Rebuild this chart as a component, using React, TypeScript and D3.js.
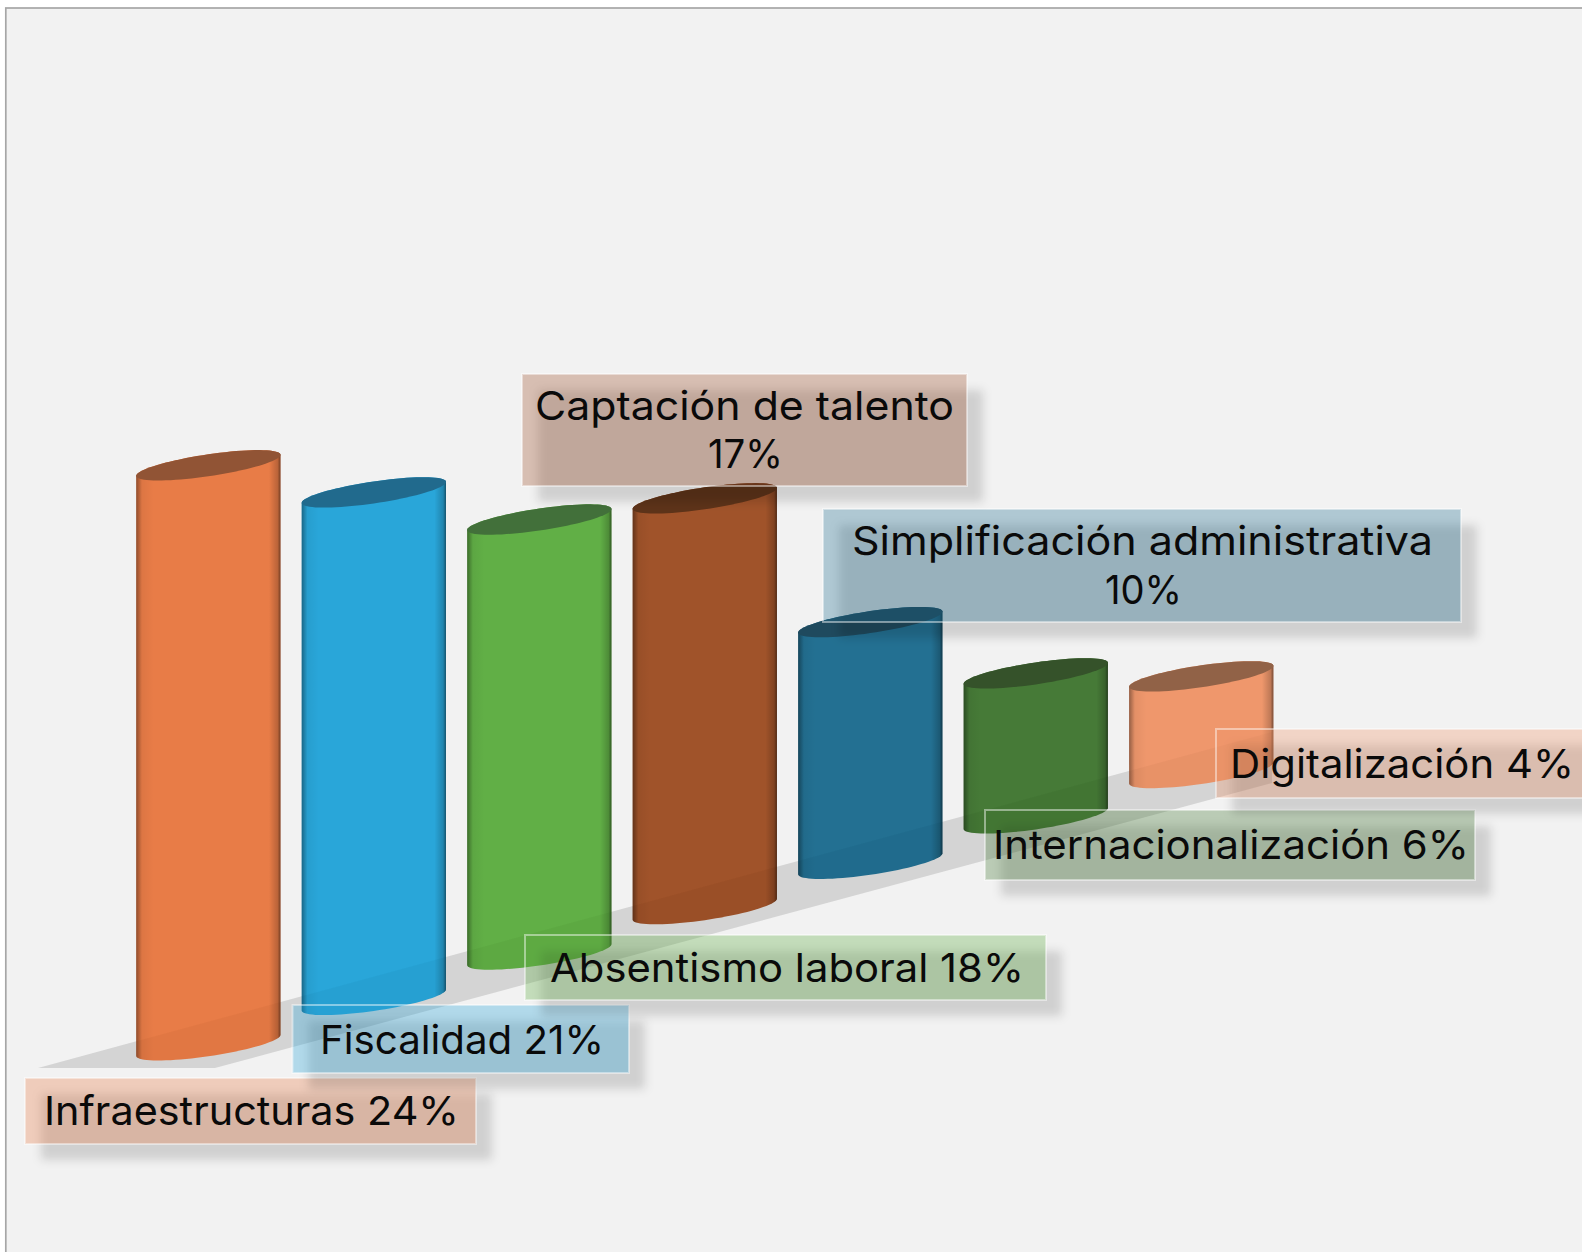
import React from "react";
import * as d3 from "d3";

const categories = [
  "Infraestructuras",
  "Fiscalidad",
  "Absentismo laboral",
  "Captación de talento",
  "Simplificación administrativa",
  "Internacionalización",
  "Digitalización",
];
const shares = [24, 21, 18, 17, 10, 6, 4];
const sideColors = ["#e7743c", "#1ca0d7", "#57aa3a", "#9a481d", "#15678b", "#3a722a", "#ee9063"];
const topColors = ["#915435", "#216a8d", "#42703a", "#5d3319", "#1f4a5e", "#35522a", "#916247"];
const boxColors = ["#e97c47", "#29a5d9", "#60ae45", "#9f522a", "#226f91", "#457a36", "#ee966b"];

// label boxes, in page pixels
const labelBoxes = [
  { x: 25, y: 1078, w: 451, h: 66, lines: [{ text: "Infraestructuras 24%", x0: 44, x1: 459, base: 1125 }] },
  { x: 292.5, y: 1005, w: 336.5, h: 68, lines: [{ text: "Fiscalidad 21%", x0: 320, x1: 604, base: 1054 }] },
  { x: 525, y: 935, w: 521, h: 65, lines: [{ text: "Absentismo laboral 18%", x0: 550, x1: 1024, base: 982 }] },
  {
    x: 522, y: 374, w: 445, h: 112,
    lines: [
      { text: "Captación de talento", x0: 535, x1: 954, base: 420 },
      { text: "17%", x0: 708, x1: 783, base: 468 },
    ],
  },
  {
    x: 823, y: 509, w: 638, h: 113,
    lines: [
      { text: "Simplificación administrativa", x0: 852, x1: 1433, base: 555 },
      { text: "10%", x0: 1105, x1: 1182, base: 604 },
    ],
  },
  { x: 985, y: 810, w: 490, h: 70, lines: [{ text: "Internacionalización 6%", x0: 993, x1: 1469, base: 859 }] },
  { x: 1216, y: 729, w: 374, h: 69, lines: [{ text: "Digitalización 4%", x0: 1230, x1: 1574, base: 778 }] },
];

const floorCorners: [number, number][] = [[38, 1068], [215, 1068], [1272, 783], [1272, 732]];

const x = d3.scaleBand<string>().domain(categories).range([136.2, 1273.4]).paddingInner(0.128);
const height = d3.scaleLinear().domain([0, 24]).range([0, 580]);
const baseY = d3.scaleLinear().domain([0, 6]).range([1045.3, 773]);

const shearRise = 10.5;
const ellipseB = 11;

// half of the tilted ellipse that caps a cylinder, left to right
const halfEllipse = (cx: number, cy: number, a: number, from: number, to: number) =>
  d3.range(0, 41).map((k): [number, number] => {
    const t = from + ((to - from) * k) / 40;
    return [cx - a * Math.cos(t), cy + ellipseB * Math.sin(t) + shearRise * Math.cos(t)];
  });

const line = d3.line();

const Cylinder = ({ name, i }: { name: string; i: number }) => {
  const left = x(name) as number;
  const a = x.bandwidth() / 2;
  const cx = left + a;
  const bottom = baseY(i);
  const top = bottom - height(shares[i]);
  const lowerBottom = halfEllipse(cx, bottom, a, 0, Math.PI);
  const lowerTop = halfEllipse(cx, top, a, 0, Math.PI);
  const upperTop = halfEllipse(cx, top, a, 0, -Math.PI);
  const body = [...lowerBottom, ...[...upperTop].reverse()];
  const cap = [...lowerTop, ...[...upperTop].reverse()];
  return (
    <g>
      <path d={line(body) + "Z"} fill={sideColors[i]} fillOpacity={0.94} />
      <path d={line(body) + "Z"} fill="url(#edge)" />
      <path d={line(cap) + "Z"} fill={topColors[i]} />
    </g>
  );
};

const App = () => (
  <svg
    width={1582}
    height={1252}
    style={{ position: "fixed", left: 0, top: 0, display: "block" }}
    fontFamily="Inter, 'Open Sans', sans-serif"
  >
    <defs>
      <linearGradient id="edge" x1="0" x2="1" y1="0" y2="0">
        <stop offset="0" stopColor="#000" stopOpacity={0.38} />
        <stop offset="0.04" stopColor="#000" stopOpacity={0.05} />
        <stop offset="0.12" stopColor="#000" stopOpacity={0} />
        <stop offset="0.92" stopColor="#000" stopOpacity={0} />
        <stop offset="0.98" stopColor="#000" stopOpacity={0.2} />
        <stop offset="1" stopColor="#000" stopOpacity={0.5} />
      </linearGradient>
      <filter id="soft" x="-10%" y="-30%" width="120%" height="160%">
        <feGaussianBlur stdDeviation="5" />
      </filter>
    </defs>
    <rect x={0} y={0} width={1582} height={1252} fill="#fff" />
    <rect x={5.8} y={8} width={1600} height={1300} fill="#f2f2f2" stroke="#a6a6a6" strokeWidth={1.7} />
    <path d={line(floorCorners) + "Z"} fill="#d9d9d9" />
    {categories.map((c, i) => (
      <Cylinder key={c} name={c} i={i} />
    ))}
    {/* the floor shows faintly through the cylinders */}
    <path d={line(floorCorners) + "Z"} fill="#000" fillOpacity={0.02} />
    {labelBoxes.map((b, i) => (
      <g key={b.lines[0].text}>
        <rect x={b.x + 16} y={b.y + 16} width={b.w} height={b.h} fill="#000" fillOpacity={0.14} filter="url(#soft)" />
        <rect x={b.x} y={b.y} width={b.w} height={b.h} fill={boxColors[i]} fillOpacity={0.32} stroke="#fff" strokeOpacity={0.45} strokeWidth={2} />
        {b.lines.map((l) => (
          <text key={l.text} x={l.x0} y={l.base} fontSize={40} fill="#0a0a0a" textLength={l.x1 - l.x0} lengthAdjust="spacingAndGlyphs">
            {l.text}
          </text>
        ))}
      </g>
    ))}
  </svg>
);

export default App;
